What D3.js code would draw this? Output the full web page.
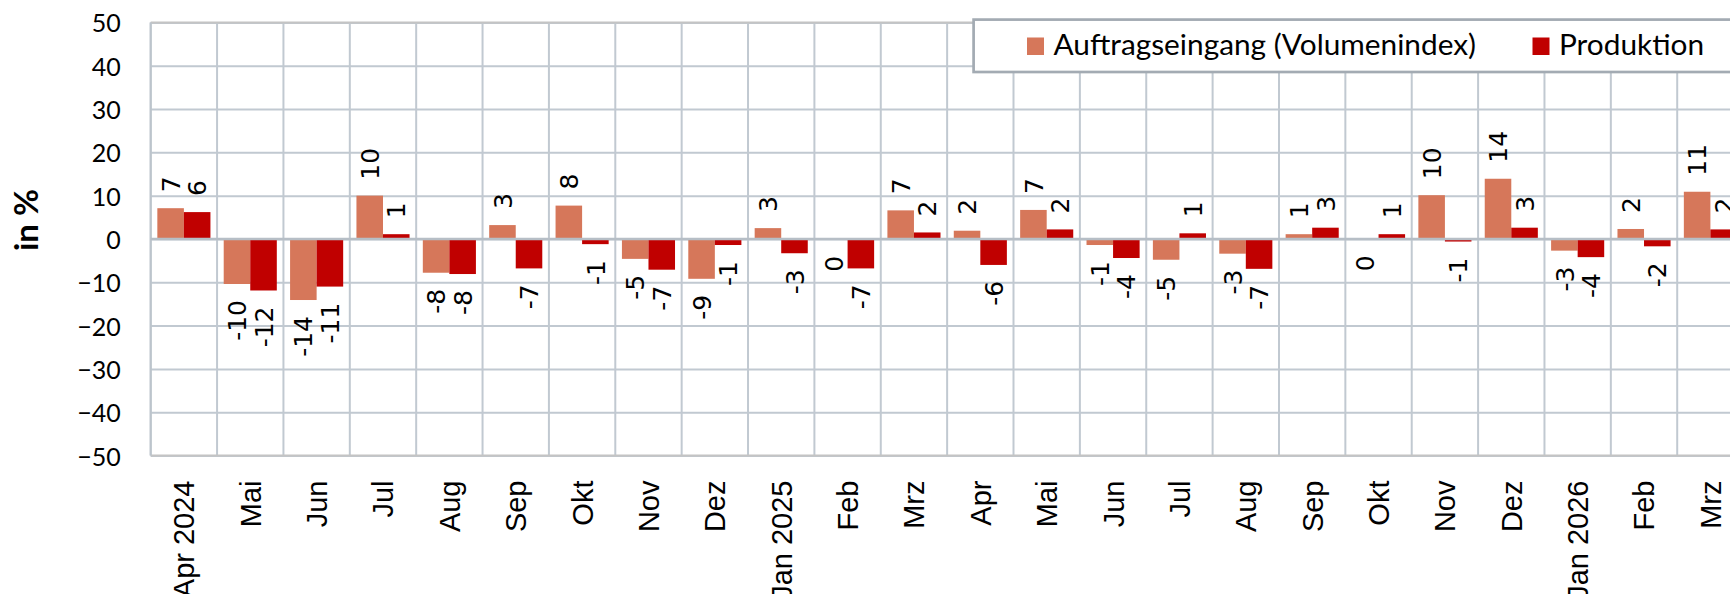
<!DOCTYPE html>
<html>
<head>
<meta charset="utf-8">
<script src="https://cdn.jsdelivr.net/npm/d3@7"></script>
<style>
  body { margin: 0; background: #fff; }
  svg { display: block; }
</style>
</head>
<body>
<div id="chart"></div>
<script>
// Data
const categories = ['Apr 2024', 'Mai', 'Jun', 'Jul', 'Aug', 'Sep', 'Okt', 'Nov', 'Dez',
  'Jan 2025', 'Feb', 'Mrz', 'Apr', 'Mai', 'Jun', 'Jul', 'Aug', 'Sep', 'Okt', 'Nov', 'Dez',
  'Jan 2026', 'Feb', 'Mrz'];
const auftrag = [7.1, -10.4, -14.1, 10.0, -7.8, 3.2, 7.7, -4.6, -9.2, 2.5, -0.2, 6.6,
  1.9, 6.7, -1.4, -4.8, -3.4, 1.1, -0.1, 10.1, 13.9, -2.7, 2.3, 10.9];
const produktion = [6.2, -11.9, -11.0, 1.1, -8.1, -6.8, -1.2, -7.1, -1.4, -3.3, -6.8, 1.5,
  -6.0, 2.2, -4.4, 1.3, -6.9, 2.6, 1.1, -0.6, 2.6, -4.2, -1.7, 2.2];
const seriesNames = ['Auftragseingang (Volumenindex)', 'Produktion'];
const yTicks = [-50, -40, -30, -20, -10, 0, 10, 20, 30, 40, 50];

const colors = ['#d6775a', '#c00000'];
const series = [auftrag, produktion];

const width = 1730;
const height = 594;
const margin = { top: 22.4, left: 150.7 };
const plotH = 433.1;
const plotW = 66.37 * categories.length;

const svg = d3.select('#chart')
  .append('svg')
  .attr('width', width)
  .attr('height', height);

const g = svg.append('g')
  .attr('transform', `translate(${margin.left}, ${margin.top})`);

// Scales
const x = d3.scaleBand()
  .domain(d3.range(categories.length))
  .range([0, plotW])
  .paddingInner(0)
  .paddingOuter(0);

const x1 = d3.scaleBand()
  .domain(d3.range(series.length))
  .range([0, x.bandwidth()])
  .paddingInner(0)
  .paddingOuter(0.25);

const y = d3.scaleLinear()
  .domain([-50, 50])
  .range([plotH, 0]);

// Horizontal gridlines
g.append('g')
  .call(d3.axisLeft(y).tickValues(yTicks).tickSize(-plotW).tickFormat(''))
  .call(s => s.select('.domain').remove())
  .selectAll('line')
  .attr('stroke', '#c1c9d1')
  .attr('stroke-width', 2);

// Vertical gridlines at category boundaries
g.append('g')
  .selectAll('line')
  .data(d3.range(categories.length + 1))
  .enter()
  .append('line')
  .attr('x1', d => d * x.step())
  .attr('x2', d => d * x.step())
  .attr('y1', 0)
  .attr('y2', plotH)
  .attr('stroke', '#c1c9d1')
  .attr('stroke-width', 2);

// Plot border top / bottom / left
g.append('line')
  .attr('x1', 0).attr('x2', plotW).attr('y1', 0).attr('y2', 0)
  .attr('stroke', '#c4c4c4').attr('stroke-width', 2);
g.append('line')
  .attr('x1', 0).attr('x2', plotW).attr('y1', plotH).attr('y2', plotH)
  .attr('stroke', '#c4c4c4').attr('stroke-width', 2);
g.append('line')
  .attr('x1', 0).attr('x2', 0).attr('y1', 0).attr('y2', plotH)
  .attr('stroke', '#bcc4cc').attr('stroke-width', 2);

// Bars
series.forEach((values, si) => {
  g.append('g')
    .selectAll('rect')
    .data(values)
    .enter()
    .append('rect')
    .attr('x', (d, i) => x(i) + x1(si))
    .attr('y', d => y(Math.max(0, d)))
    .attr('width', x1.bandwidth())
    .attr('height', d => Math.abs(y(d) - y(0)))
    .attr('fill', colors[si]);
});

// Zero line
g.append('line')
  .attr('x1', 0).attr('x2', plotW)
  .attr('y1', y(0)).attr('y2', y(0))
  .attr('stroke', '#b6bec6')
  .attr('stroke-width', 2.5);

// Data labels (rotated)
series.forEach((values, si) => {
  g.append('g')
    .selectAll('text')
    .data(values)
    .enter()
    .append('text')
    .attr('transform', (d, i) =>
      `translate(${x(i) + x1(si) + x1.bandwidth() / 2}, ${y(d)}) rotate(-90)`)
    .attr('x', d => d >= 0 ? 16 : -16)
    .attr('dy', '0.365em')
    .attr('text-anchor', d => d >= 0 ? 'start' : 'end')
    .style('font-family', 'DejaVu Sans, sans-serif')
    .style('font-size', '25px')
    .style('fill', '#000')
    .text(d => String(Math.round(d)));
});

// Y axis labels
g.append('g')
  .call(d3.axisLeft(y).tickValues(yTicks).tickSize(0).tickPadding(30))
  .call(s => s.select('.domain').remove())
  .selectAll('text')
  .attr('dy', '0.38em')
  .style('font-family', 'Lato, sans-serif')
  .style('font-size', '25px')
  .style('fill', '#000');

// X axis labels
g.append('g')
  .attr('transform', `translate(0, ${plotH})`)
  .call(d3.axisBottom(x).tickSize(0).tickFormat(i => categories[i]))
  .call(s => s.select('.domain').remove())
  .selectAll('text')
  .attr('transform', 'rotate(-90)')
  .attr('x', -25)
  .attr('y', 0)
  .attr('dy', '0.36em')
  .attr('text-anchor', 'end')
  .style('font-family', 'Liberation Sans, Arial, sans-serif')
  .style('font-size', '29px')
  .style('fill', '#000');

// Y axis title
svg.append('text')
  .attr('transform', 'translate(38, 220) rotate(-90)')
  .attr('text-anchor', 'middle')
  .style('font-family', 'Lato, sans-serif')
  .style('font-weight', 'bold')
  .style('font-size', '33px')
  .text('in %');

// Legend
const legend = svg.append('g');
legend.append('rect')
  .attr('x', 973.6)
  .attr('y', 19.6)
  .attr('width', 800)
  .attr('height', 52.4)
  .attr('fill', '#fff')
  .attr('stroke', '#a3abb3')
  .attr('stroke-width', 2.7);

const legendX = [1027, 1532.5];
seriesNames.forEach((name, i) => {
  legend.append('rect')
    .attr('x', legendX[i])
    .attr('y', 37.5)
    .attr('width', 17)
    .attr('height', 17.5)
    .attr('fill', colors[i]);
  legend.append('text')
    .attr('x', legendX[i] + 26.5)
    .attr('y', 55)
    .style('font-family', 'Lato, sans-serif')
    .style('font-size', '29.8px')
    .style('fill', '#000')
    .text(name);
});
</script>
</body>
</html>
